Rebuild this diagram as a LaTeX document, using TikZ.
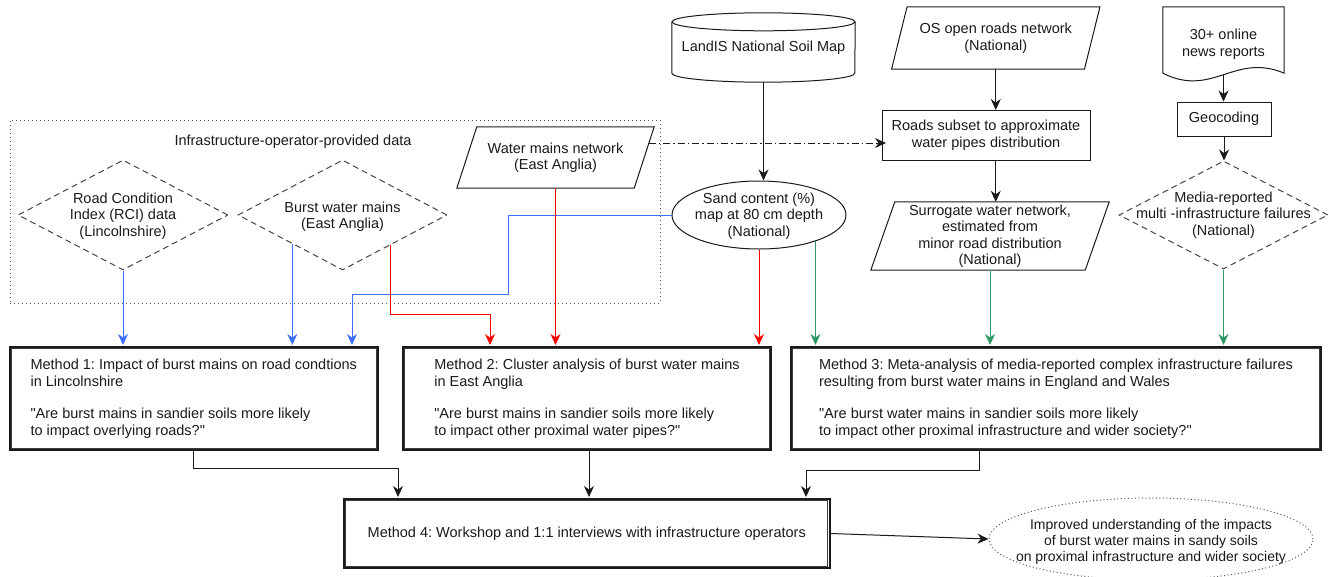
\documentclass[tikz,border=0pt]{standalone}
\usepackage{fontspec}
\setmainfont{Liberation Sans}[Ligatures=TeXOff]
\usetikzlibrary{arrows.meta,shapes.geometric}
\definecolor{cblue}{HTML}{3D6EFF}
\definecolor{cred}{HTML}{FF0000}
\definecolor{cgreen}{HTML}{2E9966}
\definecolor{ink}{HTML}{1A1A1A}
\definecolor{dashgray}{HTML}{454545}
\definecolor{dotgray}{HTML}{555555}
\frenchspacing
\begin{document}
\begin{tikzpicture}[x=1pt,y=-1pt,
  every node/.style={font=\fontsize{14.5pt}{16.5pt}\selectfont, text=ink, inner sep=0pt},
  ghost/.style={rectangle, draw=none, align=center},
  outline/.style={draw=ink, line width=1pt, line join=miter},
  plainbox/.style={rectangle, draw=ink, line width=1pt, align=center},
  dia/.style={diamond, draw=dashgray, line width=1pt, dash pattern=on 6pt off 4pt},
  labeltext/.style={align=center},
  methodbox/.style={rectangle, draw=ink, line width=2pt, align=left},
  innerline/.style={draw=ink!85, line width=0.9pt},
  dotframe/.style={rectangle, draw=dotgray, line width=1pt, dash pattern=on 1pt off 3pt},
  dotellipse/.style={ellipse, draw=dotgray, line width=1pt, dash pattern=on 1pt off 2.5pt},
  arr/.style={line width=1pt, -{Stealth[length=11pt,width=10pt,inset=3.5pt]}},
  karr/.style={arr, draw=ink},
  barr/.style={arr, draw=cblue},
  rarr/.style={arr, draw=cred},
  garr/.style={arr, draw=cgreen},
  dashdotarr/.style={arr, draw=ink, dash pattern=on 7pt off 3pt on 1.5pt off 3pt}
]
\useasboundingbox (0,0) rectangle (1329,576);
\clip (0,0) rectangle (1329,576);

% ---- operator-provided data frame ----
\node[dotframe, minimum width=650pt, minimum height=183pt] (frame) at (335,211.5) {};
\node (ftitle) at (293,142) {Infrastructure-operator-provided data};

\node[dia, minimum width=210pt, minimum height=110pt] (rci) at (123,215) {};
\node[labeltext] (rcit) at (123,216) {Road Condition\\Index (RCI) data\\(Lincolnshire)};

\node[dia, minimum width=209pt, minimum height=110pt] (burst) at (342.5,215) {};
\node[labeltext] (burstt) at (342.5,216.5) {Burst water mains\\(East Anglia)};

% water mains parallelogram
\node[ghost, minimum width=177pt, minimum height=61pt] (wm) at (555.5,157.5) {Water mains network\\(East Anglia)};
\draw[outline] ([xshift=10pt]wm.north west) -- ([xshift=10pt]wm.north east) -- ([xshift=-10pt]wm.south east) -- ([xshift=-10pt]wm.south west) -- cycle;

% ---- soil ----
\node[ghost, minimum width=183pt, minimum height=69pt] (landis) at (763.5,47.5) {LandIS National Soil Map};
\draw[outline] ([yshift=-9pt]landis.north west) -- ([yshift=9pt]landis.south west)
  arc[start angle=180, end angle=360, x radius=91.5pt, y radius=9pt] -- ([yshift=-9pt]landis.north east);
\draw[outline] ([yshift=-9pt]landis.north) ellipse [x radius=91.5pt, y radius=9pt];

\node[ellipse, draw=ink, line width=1pt, minimum width=174pt, minimum height=68pt] (sand) at (759,215) {};
\node[labeltext] (sandt) at (759,216) {Sand content (\%)\\map at 80 cm depth\\(National)};

% ---- roads ----
\node[ghost, minimum width=192.5pt, minimum height=62pt] (os) at (995.75,38) {OS open roads network\\(National)};
\draw[outline] ([xshift=7.75pt]os.north west) -- ([xshift=7.75pt]os.north east) -- ([xshift=-7.75pt]os.south east) -- ([xshift=-7.75pt]os.south west) -- cycle;

\node[plainbox, minimum width=208pt, minimum height=49.5pt] (roads) at (986,135.25) {Roads subset to approximate\\water pipes distribution};

\node[ghost, minimum width=214pt, minimum height=68pt] (sur) at (990,236) {Surrogate water network,\\estimated from\\minor road distribution\\(National)};
\draw[outline] ([xshift=12pt]sur.north west) -- ([xshift=12pt]sur.north east) -- ([xshift=-12pt]sur.south east) -- ([xshift=-12pt]sur.south west) -- cycle;

% ---- media ----
\node[ghost, minimum width=121pt, minimum height=74pt] (doc) at (1223.5,44) {30+ online\\news reports};
\draw[outline] ([yshift=8pt]doc.south west) -- (doc.north west) -- (doc.north east) -- ([yshift=8pt]doc.south east)
  .. controls ([xshift=-50pt,yshift=29pt]doc.south east) and ([xshift=50pt,yshift=-17pt]doc.south west) .. ([yshift=8pt]doc.south west);
\coordinate (docb) at ([yshift=6.5pt]doc.south);

\node[plainbox, minimum width=94pt, minimum height=34pt] (geo) at (1224,119) {Geocoding};

\node[dia, minimum width=209pt, minimum height=108pt] (media) at (1223.5,215) {};
\node[labeltext] (mediat) at (1223.5,215) {Media-reported\\multi -infrastructure failures\\(National)};

% ---- methods ----
\node[methodbox, minimum width=368pt, minimum height=103pt] (m1) at (193.75,398.5)
  {Method 1: Impact of burst mains on road condtions\\in Lincolnshire\\[16pt]"Are burst mains in sandier soils more likely\\to impact overlying roads?"};
\node[methodbox, minimum width=368pt, minimum height=103pt] (m2) at (587,398.5)
  {Method 2: Cluster analysis of burst water mains\\in East Anglia\\[16pt]"Are burst mains in sandier soils more likely\\to impact other proximal water pipes?"};
\node[methodbox, minimum width=530pt, minimum height=103pt] (m3) at (1056,398.5)
  {Method 3: Meta-analysis of media-reported complex infrastructure failures\\resulting from burst water mains in England and Wales\\[16pt]"Are burst water mains in sandier soils more likely\\to impact other proximal infrastructure and wider society?"};
\node[methodbox, minimum width=485.5pt, minimum height=69pt] (m4) at (586.75,533.5)
  {Method 4: Workshop and 1:1 interviews with infrastructure operators};
\foreach \m in {m1,m2,m3,m4}{
  \draw[innerline] ([shift={(2.6pt,-2.6pt)}]\m.north west) rectangle ([shift={(-2.6pt,2.6pt)}]\m.south east);
}

\node[dotellipse, minimum width=324pt, minimum height=82pt] (imp) at (1151,539) {};
\node[labeltext, font=\fontsize{14pt}{16pt}\selectfont] (impt) at (1151,542) {Improved understanding of the impacts\\of burst water mains in sandy soils\\on proximal infrastructure and wider society};

% ---- connectors: black ----
\draw[karr] (landis.south) -- (landis.south |- sand.north);
\draw[karr] (os.south) -- (os.south |- roads.north);
\draw[karr] (os.south |- roads.south) -- (os.south |- sur.north);
\draw[karr] (docb) -- (docb |- geo.north);
\draw[karr] (geo.south) -- (geo.south |- media.north);
\draw[dashdotarr] ([xshift=4.5pt,yshift=14.5pt]wm.east) -- ([xshift=4.5pt,yshift=14.5pt]wm.east -| roads.west);

% ---- blue ----
\draw[barr] (rci.south) -- ([yshift=1pt]rci.south |- m1.north);
\draw[barr] (burst.210.3) -- ([yshift=1pt]burst.210.3 |- m1.north);
\coordinate (b1) at (508,294);
\coordinate (b2) at (352,294);
\draw[barr] (sand.west) -| (b1) -- (b2) -- ([yshift=1pt]b2 |- m1.north);

% ---- red ----
\coordinate (r1) at (490,314);
\draw[rarr] (burst.328.7) |- (r1) -- ([yshift=1pt]r1 |- m2.north);
\draw[rarr] (wm.south) -- ([yshift=1pt]wm.south |- m2.north);
\draw[rarr] (sand.south) -- ([yshift=1pt]sand.south |- m2.north);

% ---- green ----
\draw[garr] (sand.335.7) -- ([yshift=1pt]sand.335.7 |- m3.north);
\draw[garr] (sur.south) -- ([yshift=1pt]sur.south |- m3.north);
\draw[garr] (media.south) -- ([yshift=1pt]media.south |- m3.north);

% ---- to method 4 ----
\coordinate (k1) at (398,468);
\draw[karr] (m1.south) |- (k1) -- ([yshift=1pt]k1 |- m4.north);
\coordinate (k2) at (589,460);
\draw[karr] (k2 |- m2.south) -- ([yshift=1pt]k2 |- m4.north);
\coordinate (k3) at (979,470);
\coordinate (k4) at (806,470);
\draw[karr] (k3 |- m3.south) -- (k3) -- (k4) -- ([yshift=1pt]k4 |- m4.north);
\draw[karr] (m4.east) -- (imp.west);
\end{tikzpicture}
\end{document}
